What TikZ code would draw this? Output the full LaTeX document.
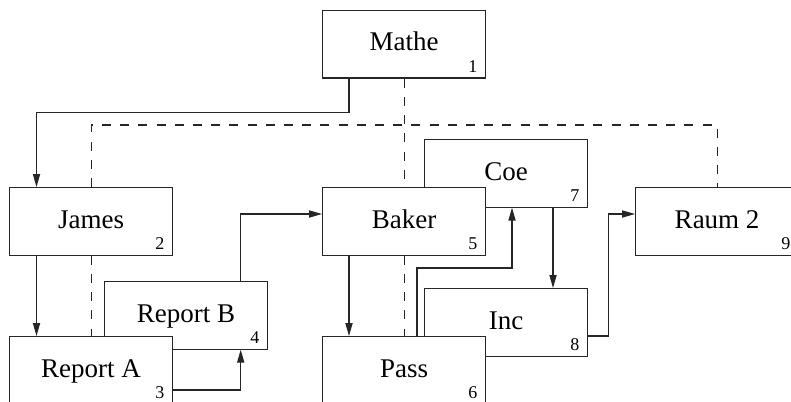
\documentclass[tikz,border=0pt]{standalone}
\usepackage{fontspec}
\setmainfont{Liberation Serif}
\usetikzlibrary{arrows.meta}
\begin{document}
\begin{tikzpicture}[x=0.5pt,y=-0.5pt,
  box/.style={draw=black!85, line width=0.6pt, fill=white, anchor=north west,
    minimum width=81.5pt, minimum height=33.75pt, inner sep=0pt},
  boxtitle/.style={anchor=base, inner sep=0pt, font=\fontsize{13.5}{16}\selectfont},
  boxnum/.style={anchor=base east, inner sep=0pt, font=\fontsize{9}{11}\selectfont},
  link/.style={draw=black!85, line width=0.55pt, -{Triangle[length=6.5pt,width=3.6pt]}},
  tie/.style={draw=black!85, line width=0.55pt, dash pattern=on 4.5pt off 4.6pt}]
\useasboundingbox (0,0) rectangle (791,401);

% boxes that lie behind others
\node[box] (repB) at (104,281) {};
\node[box] (coe)  at (424,139) {};
\node[box] (inc)  at (424,288) {};
% boxes in front
\node[box] (mathe) at (322,10) {};
\node[box] (james) at (9,187) {};
\node[box] (repA)  at (9,336) {};
\node[box] (baker) at (322,187) {};
\node[box] (pass)  at (322,336) {};
\node[box] (raum)  at (635,187) {};

% titles and numbers
\foreach \b/\t/\n in {repB/Report B/4, coe/Coe/7, inc/Inc/8, mathe/Mathe/1,
    james/James/2, repA/Report A/3, baker/Baker/5, pass/Pass/6, raum/Raum 2/9}{
  \node[boxtitle] (\b-t) at ([yshift=-20.5pt]\b.north) {\t};
  \node[boxnum]   (\b-n) at ([xshift=-4.25pt,yshift=3pt]\b.south east) {\n};
}

% dashed ties
\draw[tie] (james.north) -- ++(0,-62) -| (raum.north);
\draw[tie] (mathe.south) -- (baker.north);
\draw[tie] (james.south) -- (repA.north);
\draw[tie] (baker.south) -- (pass.north);

% arrows
\draw[link] ([xshift=13.5pt]mathe.south west) -- ++(0,34) -| ([xshift=13.75pt]james.north west);
\draw[link] ([xshift=13.75pt]james.south west) -- ([xshift=13.75pt]repA.north west);
\draw[link] ([yshift=-27pt]repA.north east) -| ([xshift=-13.75pt]repB.south east);
\draw[link] ([xshift=-13.75pt]repB.north east) |- ([yshift=-13.5pt]baker.north west);
\draw[link] ([xshift=13.5pt]baker.south west) -- ([xshift=13.5pt]pass.north west);
\draw[link] ([xshift=47.5pt]pass.north west) -- ++(0,-68) -| ([xshift=44pt]coe.south west);
\draw[link] ([xshift=64.5pt]coe.south west) -- ([xshift=64.5pt]inc.north west);
\draw[link] ([yshift=-24pt]inc.north east) -- ++(20,0) |- ([yshift=-13.5pt]raum.north west);
\end{tikzpicture}
\end{document}
